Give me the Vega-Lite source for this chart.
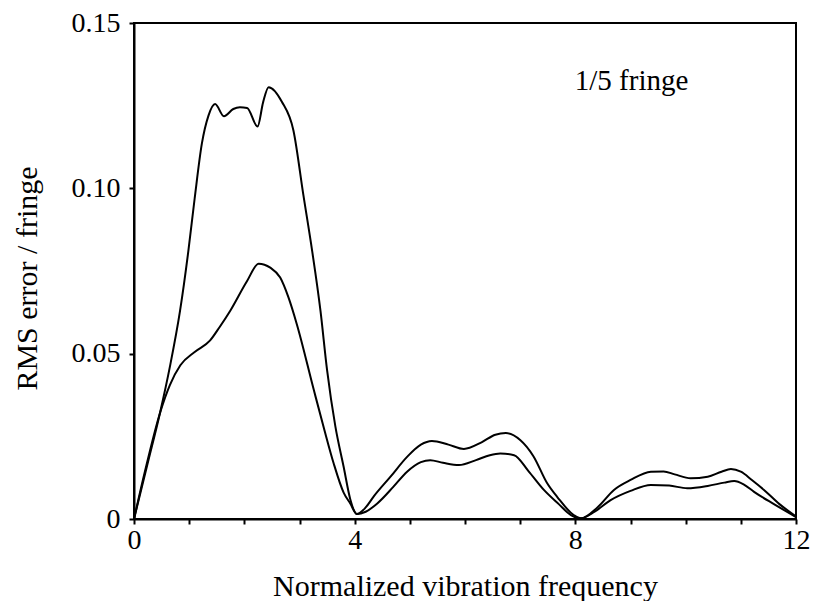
{
  "$schema": "https://vega.github.io/schema/vega-lite/v6.json",
  "width": 662,
  "height": 496,
  "autosize": {"type": "none"},
  "padding": {"left": 134, "top": 23, "right": 36, "bottom": 82},
  "background": "white",
  "config": {
    "view": {"stroke": "black", "strokeWidth": 2},
    "font": "Liberation Serif",
    "axis": {"domainColor": "black", "domainWidth": 2, "ticks": true, "tickColor": "black", "tickWidth": 2, "tickOpacity": 1, "labelColor": "black", "titleColor": "black", "labelFont": "Liberation Serif", "titleFont": "Liberation Serif", "labelFontSize": 28, "titleFontSize": 30, "titleFontWeight": "normal", "grid": false, "zindex": 1}
  },
  "datasets": {
    "curves": [
      {"f": 0, "rms": 0, "s": "A"},
      {"f": 0.25, "rms": 0.017, "s": "A"},
      {"f": 0.47, "rms": 0.032, "s": "A"},
      {"f": 0.65, "rms": 0.046, "s": "A"},
      {"f": 0.835, "rms": 0.063, "s": "A"},
      {"f": 0.985, "rms": 0.081, "s": "A"},
      {"f": 1.1, "rms": 0.097, "s": "A"},
      {"f": 1.23, "rms": 0.1135, "s": "A"},
      {"f": 1.35, "rms": 0.122, "s": "A"},
      {"f": 1.47, "rms": 0.1255, "s": "A"},
      {"f": 1.63, "rms": 0.1218, "s": "A"},
      {"f": 1.8, "rms": 0.124, "s": "A"},
      {"f": 1.92, "rms": 0.1245, "s": "A"},
      {"f": 2.05, "rms": 0.1243, "s": "A"},
      {"f": 2.24, "rms": 0.1187, "s": "A"},
      {"f": 2.34, "rms": 0.126, "s": "A"},
      {"f": 2.44, "rms": 0.1306, "s": "A"},
      {"f": 2.68, "rms": 0.1262, "s": "A"},
      {"f": 2.89, "rms": 0.1175, "s": "A"},
      {"f": 3.07, "rms": 0.098, "s": "A"},
      {"f": 3.23, "rms": 0.081, "s": "A"},
      {"f": 3.38, "rms": 0.063, "s": "A"},
      {"f": 3.5, "rms": 0.045, "s": "A"},
      {"f": 3.65, "rms": 0.028, "s": "A"},
      {"f": 3.8, "rms": 0.0158, "s": "A"},
      {"f": 3.92, "rms": 0.006, "s": "A"},
      {"f": 4.04, "rms": 0.0015, "s": "A"},
      {"f": 4.2, "rms": 0.0035, "s": "A"},
      {"f": 4.34, "rms": 0.0067, "s": "A"},
      {"f": 4.65, "rms": 0.0128, "s": "A"},
      {"f": 4.95, "rms": 0.0188, "s": "A"},
      {"f": 5.2, "rms": 0.0225, "s": "A"},
      {"f": 5.4, "rms": 0.0236, "s": "A"},
      {"f": 5.7, "rms": 0.0225, "s": "A"},
      {"f": 5.98, "rms": 0.0212, "s": "A"},
      {"f": 6.3, "rms": 0.0232, "s": "A"},
      {"f": 6.55, "rms": 0.0255, "s": "A"},
      {"f": 6.74, "rms": 0.026, "s": "A"},
      {"f": 7.0, "rms": 0.0239, "s": "A"},
      {"f": 7.24, "rms": 0.019, "s": "A"},
      {"f": 7.49, "rms": 0.0108, "s": "A"},
      {"f": 7.68, "rms": 0.0065, "s": "A"},
      {"f": 7.97, "rms": 0.0012, "s": "A"},
      {"f": 8.1, "rms": 0.0002, "s": "A"},
      {"f": 8.4, "rms": 0.0035, "s": "A"},
      {"f": 8.7, "rms": 0.0088, "s": "A"},
      {"f": 9.0, "rms": 0.0118, "s": "A"},
      {"f": 9.37, "rms": 0.0143, "s": "A"},
      {"f": 9.6, "rms": 0.0144, "s": "A"},
      {"f": 9.8, "rms": 0.0135, "s": "A"},
      {"f": 10.09, "rms": 0.0123, "s": "A"},
      {"f": 10.4, "rms": 0.0128, "s": "A"},
      {"f": 10.65, "rms": 0.0143, "s": "A"},
      {"f": 10.82, "rms": 0.0151, "s": "A"},
      {"f": 11.0, "rms": 0.0143, "s": "A"},
      {"f": 11.2, "rms": 0.0118, "s": "A"},
      {"f": 11.42, "rms": 0.0088, "s": "A"},
      {"f": 11.7, "rms": 0.0045, "s": "A"},
      {"f": 12, "rms": 0.0008, "s": "A"},
      {"f": 0, "rms": 0, "s": "B"},
      {"f": 0.2, "rms": 0.0145, "s": "B"},
      {"f": 0.47, "rms": 0.032, "s": "B"},
      {"f": 0.65, "rms": 0.0405, "s": "B"},
      {"f": 0.84, "rms": 0.0465, "s": "B"},
      {"f": 1.1, "rms": 0.0505, "s": "B"},
      {"f": 1.38, "rms": 0.054, "s": "B"},
      {"f": 1.55, "rms": 0.058, "s": "B"},
      {"f": 1.745, "rms": 0.063, "s": "B"},
      {"f": 2.05, "rms": 0.072, "s": "B"},
      {"f": 2.26, "rms": 0.0772, "s": "B"},
      {"f": 2.47, "rms": 0.076, "s": "B"},
      {"f": 2.65, "rms": 0.073, "s": "B"},
      {"f": 2.8, "rms": 0.067, "s": "B"},
      {"f": 2.95, "rms": 0.059, "s": "B"},
      {"f": 3.26, "rms": 0.039, "s": "B"},
      {"f": 3.45, "rms": 0.027, "s": "B"},
      {"f": 3.62, "rms": 0.0168, "s": "B"},
      {"f": 3.8, "rms": 0.008, "s": "B"},
      {"f": 3.92, "rms": 0.0047, "s": "B"},
      {"f": 4.04, "rms": 0.0015, "s": "B"},
      {"f": 4.2, "rms": 0.0022, "s": "B"},
      {"f": 4.41, "rms": 0.0047, "s": "B"},
      {"f": 4.7, "rms": 0.0097, "s": "B"},
      {"f": 4.95, "rms": 0.0143, "s": "B"},
      {"f": 5.2, "rms": 0.0172, "s": "B"},
      {"f": 5.37, "rms": 0.0178, "s": "B"},
      {"f": 5.6, "rms": 0.017, "s": "B"},
      {"f": 5.89, "rms": 0.0163, "s": "B"},
      {"f": 6.2, "rms": 0.0178, "s": "B"},
      {"f": 6.45, "rms": 0.0193, "s": "B"},
      {"f": 6.64, "rms": 0.0198, "s": "B"},
      {"f": 6.89, "rms": 0.0193, "s": "B"},
      {"f": 7.15, "rms": 0.0145, "s": "B"},
      {"f": 7.43, "rms": 0.0088, "s": "B"},
      {"f": 7.7, "rms": 0.0045, "s": "B"},
      {"f": 7.92, "rms": 0.0012, "s": "B"},
      {"f": 8.1, "rms": 0.0002, "s": "B"},
      {"f": 8.35, "rms": 0.0022, "s": "B"},
      {"f": 8.64, "rms": 0.0057, "s": "B"},
      {"f": 9.0, "rms": 0.0085, "s": "B"},
      {"f": 9.37, "rms": 0.0103, "s": "B"},
      {"f": 9.7, "rms": 0.0101, "s": "B"},
      {"f": 10.03, "rms": 0.0093, "s": "B"},
      {"f": 10.4, "rms": 0.01, "s": "B"},
      {"f": 10.7, "rms": 0.011, "s": "B"},
      {"f": 10.88, "rms": 0.0115, "s": "B"},
      {"f": 11.05, "rms": 0.0105, "s": "B"},
      {"f": 11.24, "rms": 0.0082, "s": "B"},
      {"f": 11.6, "rms": 0.0045, "s": "B"},
      {"f": 12, "rms": 0.0006, "s": "B"}
    ],
    "notes": [
      {"f": 7.99, "rms": 0.1325, "label": "1/5 fringe"}
    ]
  },
  "layer": [
    {
      "data": {"name": "curves"},
      "mark": {"type": "line", "color": "black", "strokeWidth": 2, "interpolate": "monotone", "clip": true},
      "encoding": {
        "x": {"field": "f", "type": "quantitative", "scale": {"domain": [0, 12], "nice": false, "zero": false},
          "axis": {"title": "Normalized vibration frequency", "format": "d", "values": [0, 1, 2, 3, 4, 5, 6, 7, 8, 9, 10, 11, 12], "labelExpr": "datum.value % 4 == 0 ? datum.label : ''", "tickSize": 5, "labelPadding": 2, "titlePadding": 17, "labelFlush": false}},
        "y": {"field": "rms", "type": "quantitative", "scale": {"domain": [0, 0.15], "nice": false, "zero": false},
          "axis": {"title": "RMS error / fringe", "values": [0, 0.05, 0.1, 0.15], "labelExpr": "datum.value == 0 ? '0' : format(datum.value, '.2f')", "tickSize": 5, "labelPadding": 9, "titlePadding": 29, "titleY": 255, "labelFlush": false}},
        "detail": {"field": "s", "type": "nominal"}
      }
    },
    {
      "data": {"name": "notes"},
      "mark": {"type": "text", "align": "left", "baseline": "middle", "font": "Liberation Serif", "fontSize": 29, "color": "black"},
      "encoding": {
        "x": {"field": "f", "type": "quantitative"},
        "y": {"field": "rms", "type": "quantitative"},
        "text": {"field": "label"}
      }
    }
  ]
}
